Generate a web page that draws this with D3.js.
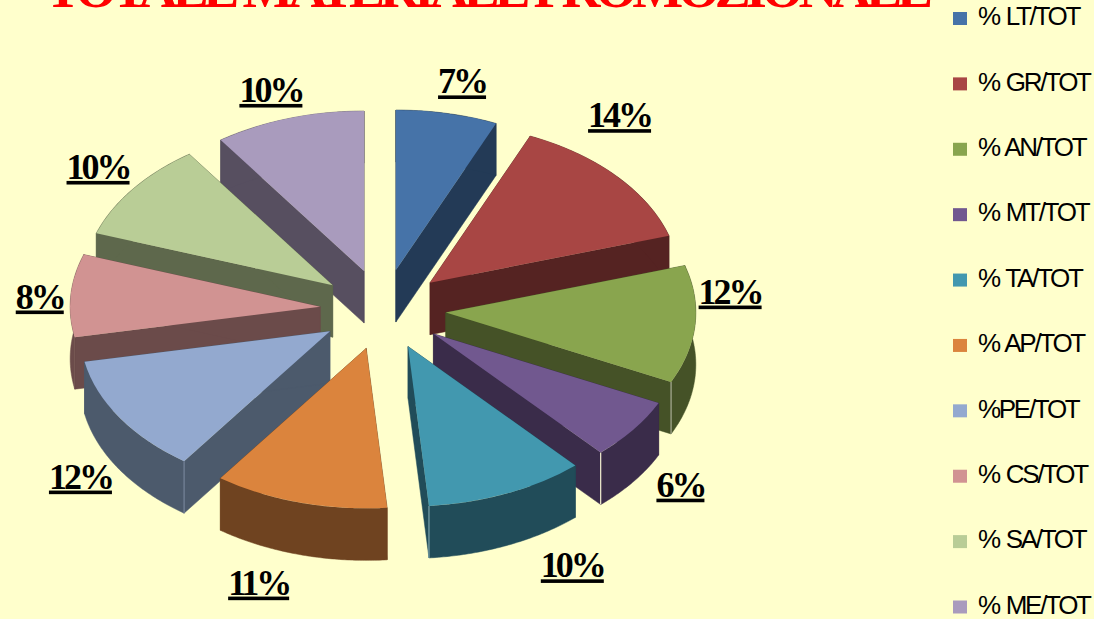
<!DOCTYPE html>
<html><head><meta charset="utf-8">
<script src="https://cdn.jsdelivr.net/npm/d3@7"></script>
<style>html,body{margin:0;padding:0;background:#FFFFCC;overflow:hidden}svg{display:block}</style>
</head><body><div id="chart"></div>
<script>
const categories = ["% LT/TOT","% GR/TOT","% AN/TOT","% MT/TOT","% TA/TOT","% AP/TOT","%PE/TOT","% CS/TOT","% SA/TOT","% ME/TOT"];
const values = [6.56,13.69,11.89,6.19,10.33,11.25,12.03,8.33,10.0,9.72];
const topColors = ["#4673A8","#A84644","#89A54E","#71588F","#4298AF","#DB843D","#93A9CF","#D19392","#B9CD96","#A99BBD"];
const wallColors = ["#233A56","#552322","#455227","#3A2C4A","#214C59","#6F4320","#4C5A6C","#6B4B4A","#5E684C","#574F60"];
const labelNudge = [[15,-20],[3,-49],[35,-21],[47,67],[65,84],[-41,92],[-39,71],[-31,13],[-35,-10],[-18,-16.5]];
const ridgeColors = [null,null,"#A9AE97","#F4F1D2","#7FA6AE",null,"#76849A",null,null,null];
const ridgeSide = [null,null,"endAngle","endAngle","endAngle",null,"startAngle",null,null,null];
const title = "TOTALE MATERIALE PROMOZIONALE";

const W=1094,H=619,cx=383,cy=309.5,R=250,tilt=0.64,depth=52,explode=63;
const svg=d3.select("#chart").append("svg").attr("width",W).attr("height",H);
svg.append("rect").attr("width",W).attr("height",H).attr("fill","#FFFFCC");

const pie=d3.pie().sort(null).value(d=>d);
const arcs=pie(values).map((a,i)=>{
  const mid=(a.startAngle+a.endAngle)/2;
  return {...a,i,mid,ox:cx+explode*Math.sin(mid),oy:cy-explode*tilt*Math.cos(mid)};
}).sort((a,b)=>a.oy-b.oy);

const arcGen=d3.arc().innerRadius(0).outerRadius(R);
const px=(a,t,r=R)=>a.ox+r*Math.sin(t);
const py=(a,t,r=R)=>a.oy-r*tilt*Math.cos(t);
const line=d3.line();
const wall=d3.area().x(d=>d[0]).y0(d=>d[1]).y1(d=>d[1]+depth);

arcs.forEach(a=>{
  const g=svg.append("g");
  const wc=wallColors[a.i];
  [a.startAngle,a.endAngle].forEach(t=>{
    g.append("path").attr("fill",wc).attr("stroke",wc).attr("stroke-width",0.5)
     .attr("d",line([[a.ox,a.oy],[px(a,t),py(a,t)],[px(a,t),py(a,t)+depth],[a.ox,a.oy+depth]])+"Z");
  });
  const ts=d3.range(a.startAngle,a.endAngle,0.01).concat([a.endAngle]);
  g.append("path").attr("fill",wc).attr("stroke",wc).attr("stroke-width",0.5)
   .attr("d",wall(ts.map(t=>[px(a,t),py(a,t)])));
  if(ridgeSide[a.i]){
    const t=a[ridgeSide[a.i]];
    g.append("path").attr("stroke",ridgeColors[a.i]).attr("stroke-width",1.2).attr("fill","none")
     .attr("d",line([[px(a,t),py(a,t)],[px(a,t),py(a,t)+depth]]));
  }
  g.append("path").attr("fill",topColors[a.i])
   .attr("transform",`translate(${a.ox},${a.oy}) scale(1,${tilt})`)
   .attr("d",arcGen({startAngle:a.startAngle,endAngle:a.endAngle}));
});

const labels=values.map(v=>Math.round(v)+"%");
arcs.slice().sort((a,b)=>a.i-b.i).forEach(a=>{
  svg.append("text")
    .attr("x",px(a,a.mid)+labelNudge[a.i][0])
    .attr("y",py(a,a.mid)+labelNudge[a.i][1])
    .attr("text-anchor","middle")
    .style("font-family","'Liberation Serif'").style("font-weight","bold")
    .style("font-size","36px").style("letter-spacing","-3px")
    .style("text-decoration","underline").attr("fill","#000")
    .text(labels[a.i]);
});

svg.append("text").attr("x",45).attr("y",7)
  .attr("textLength",888).attr("lengthAdjust","spacing")
  .style("font-family","'Liberation Serif'").style("font-weight","bold")
  .style("font-size","54px").attr("fill","#FF0000").text(title);

const legendY=d3.scalePoint().domain(categories).range([18.5,607]);
categories.forEach((c,i)=>{
  svg.append("rect").attr("x",953).attr("y",legendY(c)-6.5).attr("width",14).attr("height",13).attr("fill",topColors[i]);
  svg.append("text").attr("x",978).attr("y",legendY(c)+6.8)
    .style("font-family","'Liberation Sans'").style("font-size","26px").style("letter-spacing","-2.3px").style("word-spacing","2px")
    .attr("fill","#000").text(c);
});
</script></body></html>
